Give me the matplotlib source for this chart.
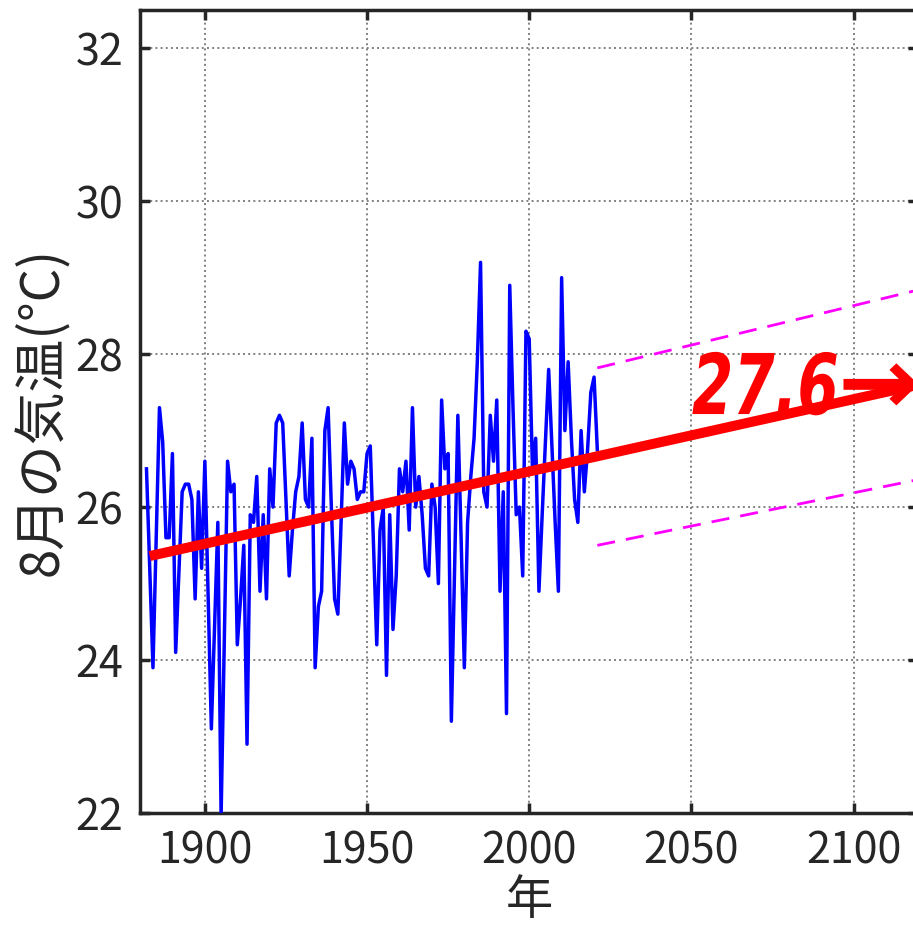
import numpy as np
import matplotlib
matplotlib.use('Agg')
import matplotlib.pyplot as plt
from matplotlib.textpath import TextPath
from matplotlib.patches import PathPatch
from matplotlib.font_manager import FontProperties
from matplotlib.transforms import Affine2D

plt.rcParams['font.family'] = ['Noto Sans CJK JP', 'DejaVu Sans']

# August mean temperature, 1882-2021
years = np.arange(1882, 2022)
temps = [
    26.5, 25.2, 23.9, 25.6, 27.3, 26.85, 25.6, 25.6, 26.7, 24.1,   # 1882-1891
    25.15, 26.2, 26.3, 26.3, 26.1, 24.8, 26.2, 25.2, 26.6, 24.85,  # 1892-1901
    23.1, 24.45, 25.8, 21.95, 24.3, 26.6, 26.2, 26.3, 24.2, 24.8,  # 1902-1911
    25.5, 22.9, 25.9, 25.8, 26.4, 24.9, 25.9, 24.8, 26.5, 26.0,    # 1912-1921
    27.1, 27.2, 27.1, 26.1, 25.1, 25.7, 26.2, 26.4, 27.1, 26.1,    # 1922-1931
    26.0, 26.9, 23.9, 24.7, 24.9, 27.0, 27.3, 26.0, 24.8, 24.6,    # 1932-1941
    25.8, 27.1, 26.3, 26.6, 26.5, 26.1, 26.2, 26.2, 26.7, 26.8,    # 1942-1951
    25.5, 24.2, 25.7, 26.0, 23.8, 25.9, 24.4, 25.1, 26.5, 26.2,    # 1952-1961
    26.6, 25.7, 27.3, 26.0, 26.4, 25.9, 25.2, 25.1, 26.3, 26.0,    # 1962-1971
    25.0, 27.4, 26.5, 26.7, 23.2, 25.2, 27.2, 25.6, 23.9, 25.8,    # 1972-1981
    26.4, 26.9, 27.9, 29.2, 26.2, 26.0, 27.2, 26.6, 27.4, 24.9,    # 1982-1991
    26.2, 23.3, 28.9, 27.3, 25.9, 26.0, 25.1, 28.3, 28.2, 26.5,    # 1992-2001
    26.9, 24.9, 25.9, 26.85, 27.8, 26.8, 25.8, 24.9, 29.0, 27.0,   # 2002-2011
    27.9, 26.9, 26.1, 25.8, 27.0, 26.2, 26.75, 27.5, 27.7, 26.75,  # 2012-2021
]

# linear trend extended to 2120
trend_years = [1883, 2120]
trend_vals = [25.36, 27.6]

# range lines for the projection
band_years = [2021, 2120]
band_upper = [27.82, 28.84]
band_lower = [25.50, 26.36]

proj_value = '27.6'
proj_arrow = '→'


def boxed_text(ax, s, x0, x1, y0, y1, color):
    # heavy italic label squeezed into a data-space box (narrow font not installed)
    prop = FontProperties(family='DejaVu Sans', weight='bold', style='oblique')
    path = TextPath((0, 0), s, size=100, prop=prop)
    ext = path.get_extents()
    tr = (Affine2D().translate(-ext.x0, -ext.y0)
          .scale((x1 - x0) / ext.width, (y1 - y0) / ext.height)
          .translate(x0, y0))
    patch = PathPatch(tr.transform_path(path), facecolor=color, edgecolor='none',
                      transform=ax.transData, clip_on=False, zorder=5)
    ax.add_patch(patch)


fig = plt.figure(figsize=(9.13, 9.30), dpi=100)
ax = fig.add_axes([140/913, 1 - 813/930, 778.4/913, 803/930])

ax.plot(years, temps, color='#0000ff', lw=2.5, zorder=3)
ax.plot(trend_years, trend_vals, color='#ff0000', lw=7.2, solid_capstyle='butt', zorder=4)
ax.plot(band_years, band_upper, color='#ff00ff', lw=2, ls=(0, (6.5, 4)), zorder=3)
ax.plot(band_years, band_lower, color='#ff00ff', lw=2, ls=(0, (6.5, 4)), zorder=3)

ax.set_xlim(1880, 2120)
ax.set_ylim(22, 32.5)

boxed_text(ax, proj_value, 2050.3, 2094.8, 27.20, 28.03, '#ff0000')
boxed_text(ax, proj_arrow, 2096.9, 2119.0, 27.33, 27.88, '#ff0000')

ax.set_xticks([1900, 1950, 2000, 2050, 2100])
ax.set_yticks([22, 24, 26, 28, 30, 32])

ax.grid(True, color='#808080', ls=':', lw=1.4)
ax.set_axisbelow(True)
for s in ax.spines.values():
    s.set_linewidth(2.5)
    s.set_color('#262626')
ax.tick_params(direction='in', length=7, width=2.5, colors='#262626',
               labelsize=31, top=True, right=True, pad=12)

ax.set_xlabel('年', fontsize=34, color='#262626')
ax.xaxis.set_label_coords(0.5, -0.079)
ax.set_ylabel('8月の気温(°C)', fontsize=38, color='#262626')
ax.yaxis.set_label_coords(-0.09, 0.5)

fig.savefig('out.png', dpi=100)
